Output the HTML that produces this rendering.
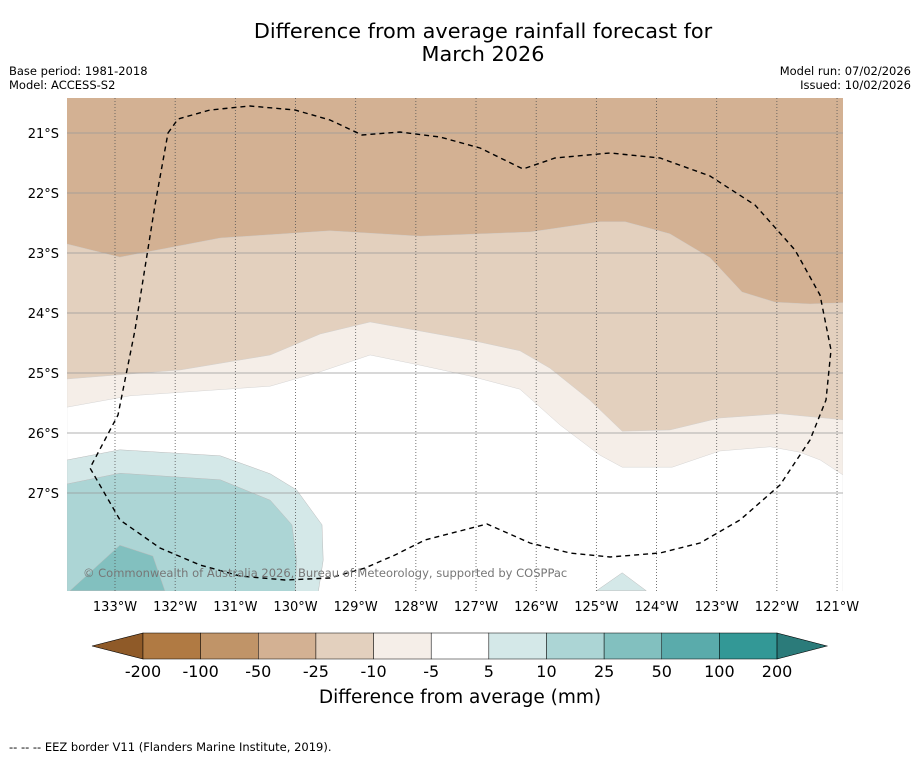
<!DOCTYPE html>
<html><head><meta charset="utf-8"><style>
body{margin:0;background:#fff;font-family:"DejaVu Sans","Liberation Sans",sans-serif}
svg{display:block}
</style></head><body>
<svg id="c" width="919" height="758" font-family="DejaVu Sans, Liberation Sans, sans-serif">
<text x="483" y="38" text-anchor="middle" font-size="20.8">Difference from average rainfall forecast for</text>
<text x="483" y="61" text-anchor="middle" font-size="20.8">March 2026</text>
<text x="9" y="75" font-size="11.5">Base period: 1981-2018</text>
<text x="9" y="89" font-size="11.5">Model: ACCESS-S2</text>
<text x="911" y="75" font-size="11.5" text-anchor="end">Model run: 07/02/2026</text>
<text x="911" y="89" font-size="11.5" text-anchor="end">Issued: 10/02/2026</text>
<defs><clipPath id="mc"><rect x="67" y="98" width="776" height="493"/></clipPath></defs>
<g id="map" clip-path="url(#mc)"></g>
<g id="grid"></g>
<path fill="none" stroke="#000" stroke-width="1.4" stroke-dasharray="5,4" d="M168,133 L178,119 L210,110 L250,106 L295,110 L330,120 L362,135 L400,132 L440,137 L480,148 L523,169 L555,158 L610,153 L660,158 L710,176 L755,205 L795,250 L820,295 L831,350 L826,400 L810,440 L780,485 L740,520 L700,543 L660,553 L610,557 L570,553 L530,543 L487,524 L460,531 L425,540 L395,555 L365,568 L330,578 L285,580 L240,576 L200,565 L160,548 L120,520 L90,468 L118,415 L135,330 L155,205 Z"/>
<text x="83" y="577" font-size="11.5" fill="#777">© Commonwealth of Australia 2026, Bureau of Meteorology, supported by COSPPac</text>
<g id="axes"></g>
<g id="cbar"></g>
<text x="460" y="703" text-anchor="middle" font-size="18.5">Difference from average (mm)</text>
<text x="9" y="751" font-size="11.5">--  --  -- EEZ border V11 (Flanders Marine Institute, 2019).</text>
</svg>
<script>
const lonTicks=[133,132,131,130,129,128,127,126,125,124,123,122,121];
const latTicks=[21,22,23,24,25,26,27];
const levelLabels=["-200","-100","-50","-25","-10","-5","5","10","25","50","100","200"];
const levelColors=["#b07a43","#c09468","#d3b193","#e3d0be","#f5eee8","#ffffff","#d4e8e8","#acd5d5","#82c0bf","#5aabab","#339896"];
// contour boundaries (lon °W, lat °S)
const b1Lon=[133.8,132.92,131.25,129.43,127.93,126.10,124.94,124.52,123.78,123.11,122.58,122.03,121.45,120.9];
const b1Lat=[22.85,23.07,22.75,22.63,22.72,22.65,22.48,22.48,22.68,23.08,23.65,23.82,23.85,23.83];
const b2Lon=[133.8,131.92,130.42,129.59,128.76,127.93,127.10,126.27,125.77,125.11,124.57,123.78,122.95,121.95,120.9];
const b2Lat=[25.10,24.95,24.70,24.35,24.15,24.30,24.45,24.63,24.92,25.45,25.97,25.95,25.75,25.68,25.78];
const b3Lon=[133.8,132.75,130.42,129.59,128.76,127.93,127.10,126.27,125.60,124.94,124.57,123.74,122.95,122.11,121.62,121.28,120.9];
const b3Lat=[25.57,25.38,25.22,24.98,24.70,24.87,25.05,25.27,25.87,26.37,26.57,26.57,26.30,26.23,26.32,26.45,26.70];
const t1Lon=[133.8,132.92,131.25,130.42,129.98,129.56,129.54,129.63,133.8];
const t1Lat=[26.45,26.28,26.38,26.68,26.95,27.53,28.12,28.7,28.7];
const t2Lon=[133.8,132.92,131.25,130.42,130.06,129.98,130.01,133.8];
const t2Lat=[26.85,26.67,26.78,27.12,27.53,28.12,28.7,28.7];
const t3Lon=[133.75,132.92,132.37,132.17];
const t3Lat=[28.63,27.87,28.05,28.63];
const t4Lon=[125.0,124.57,124.17];
const t4Lat=[28.63,28.33,28.63];

const NS="http://www.w3.org/2000/svg";
const X=lon=>115+(133-lon)*60.17;
const Y=lat=>133+(lat-21)*60;
const W0=133.8,E0=120.9,N0=20.4,S0=28.7;
function mk(tag,attrs,parent){const e=document.createElementNS(NS,tag);for(const k in attrs)e.setAttribute(k,attrs[k]);parent.appendChild(e);return e;}
function pts(lo,la){return lo.map((v,i)=>X(v).toFixed(1)+","+Y(la[i]).toFixed(1));}
const map=document.getElementById('map');
let bg=mk('rect',{x:60,y:90,width:800,height:510,fill:levelColors[2]},map);


function band(lo,la,color,name){
  const p=pts(lo,la);
  const d="M"+p.join(" L")+" L"+X(E0)+","+Y(S0)+" L"+X(W0)+","+Y(S0)+" Z";
  const e=mk('path',{d:d,fill:color,stroke:"#ccc",'stroke-width':0.4},map);
  
  
}
band(b1Lon,b1Lat,levelColors[3],'region-minus25-to-minus10');
band(b2Lon,b2Lat,levelColors[4],'region-minus10-to-minus5');
band(b3Lon,b3Lat,levelColors[5],'region-minus5-to-5');
function poly(lo,la,color,name){
  const e=mk('polygon',{points:pts(lo,la).join(" "),fill:color,stroke:"#bbb",'stroke-width':0.5},map);
  
  
}
poly(t1Lon,t1Lat,levelColors[6],'region-5-to-10');
poly(t2Lon,t2Lat,levelColors[7],'region-10-to-25');
poly(t3Lon,t3Lat,levelColors[8],'region-25-to-50');
poly(t4Lon,t4Lat,levelColors[6],'region-5-to-10-south');
const grid=document.getElementById('grid');
latTicks.forEach(l=>{
  const e=mk('line',{x1:67,x2:843,y1:Y(l),y2:Y(l),stroke:"#999",'stroke-width':0.7},grid);
  
  
});
lonTicks.forEach(l=>{
  const e=mk('line',{x1:X(l),x2:X(l),y1:98,y2:591,stroke:"#555",'stroke-width':0.8,'stroke-dasharray':"1,2"},grid);
  
  
});
const axes=document.getElementById('axes');
lonTicks.forEach(l=>{
  const t=mk('text',{x:X(l),y:611,'text-anchor':'middle','font-size':13},axes);
  t.textContent=l+"°W";
  
  
});
latTicks.forEach(l=>{
  const t=mk('text',{x:59,y:Y(l)+5,'text-anchor':'end','font-size':13},axes);
  t.textContent=l+"°S";
  
  
});
const cb=document.getElementById('cbar');
const cx0=143,cw=57.64,cy=633,ch=26;
let lt=mk('polygon',{points:`92,${cy+ch/2} ${cx0},${cy} ${cx0},${cy+ch}`,fill:"#8f5a28",stroke:"#000",'stroke-width':0.6},cb);


levelColors.forEach((c,i)=>{
  const r=mk('rect',{x:cx0+i*cw,y:cy,width:cw,height:ch,fill:c,stroke:"#000",'stroke-width':0.5},cb);
  
  
});
const xe=cx0+levelColors.length*cw;
let rt=mk('polygon',{points:`${xe},${cy} 827,${cy+ch/2} ${xe},${cy+ch}`,fill:"#2b7b7a",stroke:"#000",'stroke-width':0.6},cb);


levelLabels.forEach((s,i)=>{
  const t=mk('text',{x:cx0+i*cw,y:677,'text-anchor':'middle','font-size':16},cb);
  t.textContent=s;
  
  
});
</script>
</body></html>
